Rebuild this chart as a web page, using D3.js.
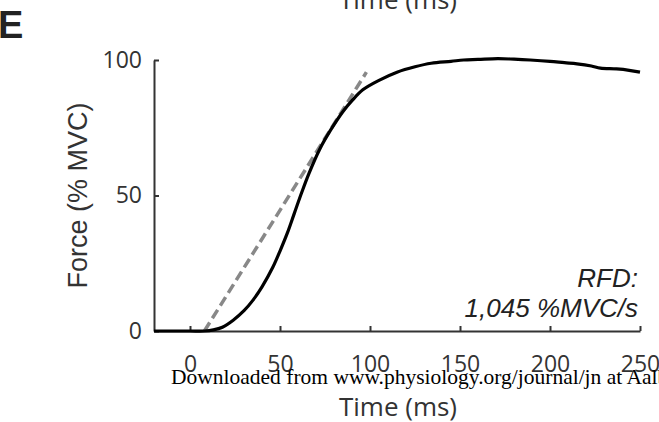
<!DOCTYPE html>
<html>
<head>
<meta charset="utf-8">
<script src="https://cdn.jsdelivr.net/npm/d3@7"></script>
<style>
html,body{margin:0;padding:0;background:#fff;}
svg{display:block;}
</style>
</head>
<body>
<svg id="chart" width="659" height="422"></svg>
<script>
// ---- data ----
const timeMs = [-20, 0, 8, 13, 18, 24, 30, 35, 40, 46, 50, 54, 58, 62, 66, 72, 78, 85, 90, 96, 105, 115, 125, 134, 145, 152, 160, 171, 180, 189, 200, 208, 215, 223, 228, 237, 244, 250];
const forcePct = [0, 0, 0, 0.4, 1.4, 4, 7.5, 11.4, 16.3, 23.5, 29.5, 36, 43.5, 51, 58, 67, 74, 81, 85, 89, 92.5, 95.5, 97.5, 98.8, 99.5, 100, 100.2, 100.5, 100.3, 100, 99.5, 99, 98.6, 97.8, 97, 96.7, 96.2, 95.5];
const rfdTime = [8, 98];
const rfdForce = [0, 95.5];
const xTicks = [0, 50, 100, 150, 200, 250];
const yTicks = [0, 50, 100];
const panelLabel = "E";
const xLabel = "Time (ms)";
const yLabel = "Force (% MVC)";
const rfdLines = ["RFD:", "1,045 %MVC/s"];
const footer = "Downloaded from www.physiology.org/journal/jn at Aalborg Univ Library on June 12, 2017";

const svg = d3.select("#chart");
const x = d3.scaleLinear().domain([-20, 250]).range([154, 640]);
const y = d3.scaleLinear().domain([0, 100]).range([331, 60]);
const axisColor = "#333";
const tickFont = "'Open Sans', sans-serif";

// top cropped label from panel above
svg.append("text").attr("x", 398).attr("y", 9).attr("text-anchor", "middle")
  .attr("font-family", tickFont).attr("font-size", 26).attr("fill", "#333").text(xLabel);

// panel letter
svg.append("text").attr("x", -2).attr("y", 38)
  .attr("font-family", "'Liberation Sans', Arial, sans-serif").attr("font-weight", "bold")
  .attr("font-size", 38).attr("fill", "#222").text(panelLabel);

// axes
const xAxis = d3.axisBottom(x).tickValues(xTicks).tickSizeInner(-5).tickSizeOuter(0).tickPadding(0);
const gx = svg.append("g").attr("transform", `translate(0,${y(0)})`).call(xAxis);
gx.select(".domain").attr("stroke", axisColor).attr("stroke-width", 2);
gx.selectAll(".tick line").attr("stroke", axisColor).attr("stroke-width", 2);
gx.selectAll(".tick text").attr("font-family", tickFont).attr("font-size", 23).attr("fill", "#333")
  .attr("y", 25).attr("dy", "0.71em");

const yAxis = d3.axisLeft(y).tickValues(yTicks).tickSizeInner(-5).tickSizeOuter(0).tickPadding(12);
const gy = svg.append("g").attr("transform", `translate(${x(-20)},0)`).call(yAxis);
gy.select(".domain").attr("stroke", axisColor).attr("stroke-width", 2);
gy.selectAll(".tick line").attr("stroke", axisColor).attr("stroke-width", 2);
gy.selectAll(".tick text").attr("font-family", tickFont).attr("font-size", 23).attr("fill", "#333");

// RFD dashed line
svg.append("path")
  .datum(rfdTime.map((t, i) => [t, rfdForce[i]]))
  .attr("d", d3.line().x(d => x(d[0])).y(d => y(d[1])))
  .attr("fill", "none").attr("stroke", "#888").attr("stroke-width", 3.5)
  .attr("stroke-dasharray", "10,5");

// force curve
svg.append("path")
  .datum(timeMs.map((t, i) => [t, forcePct[i]]))
  .attr("d", d3.line().x(d => x(d[0])).y(d => y(d[1])).curve(d3.curveCatmullRom.alpha(0.5)))
  .attr("fill", "none").attr("stroke", "#000").attr("stroke-width", 3.2)
  .attr("stroke-linejoin", "round");

// RFD annotation
rfdLines.forEach((t, i) => {
  svg.append("text").attr("x", 638).attr("y", 287 + i * 30).attr("text-anchor", "end")
    .attr("font-family", "'Liberation Sans', Arial, sans-serif").attr("font-style", "italic")
    .attr("font-size", 26).attr("fill", "#222").text(t);
});

// y label
svg.append("text").attr("transform", `translate(87,${(60 + 331) / 2}) rotate(-90)`)
  .attr("text-anchor", "middle")
  .attr("font-family", "'Liberation Sans', Arial, sans-serif")
  .attr("font-size", 27).attr("fill", "#333").text(yLabel);

// footer watermark
svg.append("text").attr("x", 171).attr("y", 384)
  .attr("font-family", "'Liberation Serif', 'Times New Roman', serif")
  .attr("font-size", 21.5).attr("fill", "#000").text(footer);

// x label
svg.append("text").attr("x", 398).attr("y", 416).attr("text-anchor", "middle")
  .attr("font-family", tickFont).attr("font-size", 26).attr("fill", "#333").text(xLabel);
</script>
</body>
</html>
